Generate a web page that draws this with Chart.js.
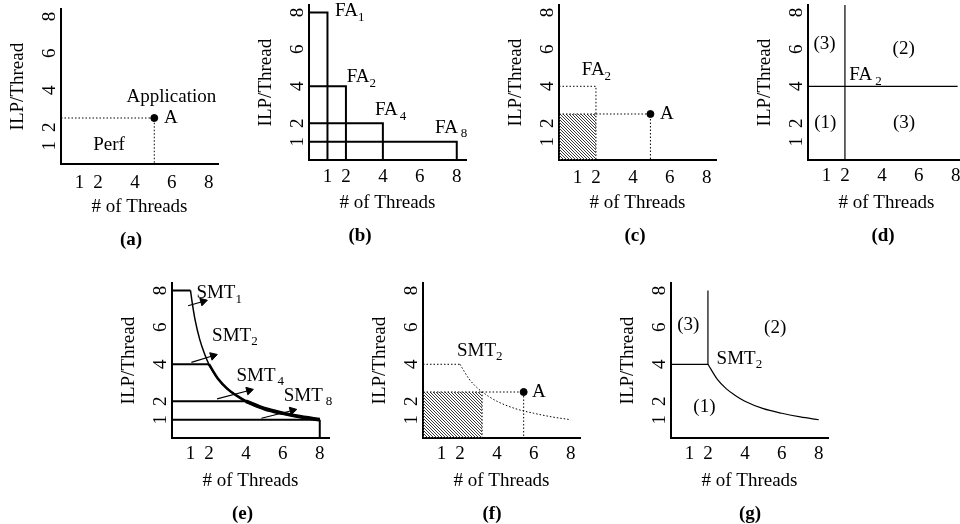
<!DOCTYPE html>
<html>
<head>
<meta charset="utf-8">
<title>ILP / Thread vs # of Threads</title>
<script src="https://cdn.jsdelivr.net/npm/chart.js@4.4.1/dist/chart.umd.min.js"></script>
<style>
  html, body { margin: 0; padding: 0; background: #fff; }
  body { width: 960px; height: 524px; overflow: hidden; position: relative; }
  canvas { position: absolute; }
</style>
</head>
<body>
<canvas id="pa"></canvas>
<canvas id="pb"></canvas>
<canvas id="pc"></canvas>
<canvas id="pd"></canvas>
<canvas id="pe"></canvas>
<canvas id="pf"></canvas>
<canvas id="pg"></canvas>
<script>
const threadTicks = [1, 2, 4, 6, 8];
const ilpTicks = [1, 2, 4, 6, 8];

// application point A as placed in (a), (c), (f)
const appThreads = [5.05, 4.95, 5.45];
const appIlp = [2.5, 2.5, 2.5];

// FA_n / SMT_n: n threads, each with this much ILP
const faThreads = [1, 2, 4, 8];
const faIlp = [8, 4, 2, 1];

const curveThreads = [1, 1.1, 1.25, 1.5, 1.75, 2, 2.5, 3, 3.5, 4, 5, 6, 7, 8];
const curveIlp = [8, 7.3, 6.4, 5.35, 4.6, 4, 3.2, 2.67, 2.3, 2, 1.6, 1.35, 1.15, 1];

// shaded box (what A actually gets) in (c) and (f)
const perfThreads = [2, 3.2];
const perfIlp = [2.5, 2.5];

// little pointers in (e)
const arrowFrom = [[0.87, 7.17], [1.05, 4.1], [2.44, 2.13], [4.84, 1.08]];
const arrowTo = [[1.68, 7.4], [2.22, 4.46], [4.17, 2.58], [6.52, 1.5]];

const captions = ['(a)', '(b)', '(c)', '(d)', '(e)', '(f)', '(g)'];

const SERIF = '"Liberation Serif", "Times New Roman", Times, serif';
Chart.defaults.font.family = SERIF;
Chart.defaults.font.size = 19;
Chart.defaults.color = '#000';

// text labels placed in data coordinates
const notesPlugin = {
    id: 'notes',
    afterDatasetsDraw(chart, args, opts) {
        const { ctx, scales: { x, y } } = chart;
        ctx.save();
        ctx.fillStyle = '#000';
        ctx.textBaseline = 'middle';
        ctx.textAlign = 'left';
        (opts.items || []).forEach(n => {
            const px = x.getPixelForValue(n.x);
            const py = y.getPixelForValue(n.y);
            ctx.font = '19px ' + SERIF;
            ctx.fillText(n.text, px, py);
            if (n.sub) {
                const w = ctx.measureText(n.text).width;
                ctx.font = '13px ' + SERIF;
                ctx.fillText(n.sub, px + w + (n.gap || 0), py + 6);
            }
        });
        ctx.restore();
    }
};

const pts = list => list.map(([x, y]) => ({ x, y }));

function line(points, width, extra) {
    return Object.assign({
        data: pts(points),
        showLine: true,
        borderColor: '#000',
        borderWidth: width,
        pointRadius: 0,
        fill: false,
        tension: 0
    }, extra || {});
}

const dotted = (points, extra) => line(points, 1, Object.assign({ borderDash: [1.5, 2] }, extra || {}));

function curve(from, width, extra) {
    const i0 = curveThreads.indexOf(from);
    const p = curveThreads.slice(i0).map((x, i) => [x, curveIlp[i0 + i]]);
    return line(p, width, Object.assign({ cubicInterpolationMode: 'monotone' }, extra || {}));
}

function dot(x, y) {
    return {
        data: [{ x, y }],
        showLine: false,
        pointRadius: 3.5,
        pointBackgroundColor: '#000',
        pointBorderColor: '#000'
    };
}

function arrow(from, to) {
    const rot = Math.atan2(to[0] - from[0], to[1] - from[1]) * 180 / Math.PI;
    return line([from, to], 1.2, {
        pointRadius: [0, 4.5],
        pointStyle: 'triangle',
        pointRotation: [0, rot],
        pointBackgroundColor: '#000',
        pointBorderColor: '#000',
        pointBorderWidth: 1
    });
}

function hatch(cv) {
    const tile = document.createElement('canvas');
    tile.width = 3;
    tile.height = 3;
    const g = tile.getContext('2d');
    g.fillStyle = '#3a3a3a';
    for (let i = 0; i < 3; i++) g.fillRect(i, i, 1, 1);
    return cv.getContext('2d').createPattern(tile, 'repeat');
}

function shaded(cv, threads, ilp) {
    return line([[0, ilp], [threads, ilp]], 1, {
        borderDash: [1.5, 2],
        fill: 'origin',
        backgroundColor: hatch(cv)
    });
}

function noPad(s) {
    s.paddingTop = 0;
    s.paddingBottom = 0;
    s.paddingLeft = 0;
    s.paddingRight = 0;
}

function panel(id, left, top, padR, caption, makeSets, notes, tickPad) {
    const cv = document.getElementById(id);
    cv.width = 60 + 157 + padR;
    cv.height = 252;
    cv.style.left = (left - 60) + 'px';
    cv.style.top = (top - 6) + 'px';

    new Chart(cv, {
        type: 'scatter',
        data: { datasets: makeSets(cv) },
        options: {
            responsive: false,
            animation: false,
            events: [],
            layout: { padding: { top: 6, left: 0, right: 0, bottom: 0 } },
            plugins: {
                legend: { display: false },
                tooltip: { enabled: false },
                title: {
                    display: true,
                    text: caption,
                    position: 'bottom',
                    font: { size: 19, weight: 'bold' },
                    padding: { top: 8, bottom: 4 }
                },
                notes: { items: notes }
            },
            scales: {
                x: {
                    type: 'linear',
                    min: 0,
                    max: 8.5,
                    afterBuildTicks: s => { s.ticks = threadTicks.map(v => ({ value: v })); },
                    afterFit: s => { s.height = 56; noPad(s); },
                    ticks: { autoSkip: false, maxRotation: 0, padding: tickPad },
                    grid: { display: false, drawTicks: false },
                    border: { display: true, color: '#000', width: 2 },
                    title: { display: true, text: '# of Threads', padding: { top: 0, bottom: 2 } }
                },
                y: {
                    type: 'linear',
                    min: 0,
                    max: 8.4,
                    afterBuildTicks: s => { s.ticks = ilpTicks.map(v => ({ value: v })); },
                    afterFit: s => { s.width = 60; noPad(s); },
                    ticks: { autoSkip: false, minRotation: 90, maxRotation: 90, crossAlign: 'center', padding: 6 },
                    grid: { display: false, drawTicks: false },
                    border: { display: true, color: '#000', width: 2 },
                    title: { display: true, text: 'ILP/Thread', padding: { top: 6, bottom: 0 } }
                },
                yr: {
                    position: 'right',
                    min: 0,
                    max: 8.4,
                    display: true,
                    ticks: { display: false },
                    grid: { display: false, drawTicks: false },
                    border: { display: false },
                    afterFit: s => { s.width = padR; noPad(s); }
                }
            }
        },
        plugins: [notesPlugin]
    });
}

// (a) the application
panel('pa', 61, 9, 43, captions[0], () => [
    dotted([[0, appIlp[0]], [appThreads[0], appIlp[0]], [appThreads[0], 0]]),
    dot(appThreads[0], appIlp[0])
], [
    { text: 'Application', x: 3.55, y: 3.66 },
    { text: 'A', x: 5.57, y: 2.49 },
    { text: 'Perf', x: 1.74, y: 1.04 }
], 7);

// (b) FA_n boxes
panel('pb', 309, 5, 5, captions[1], () => faThreads.map((t, i) =>
    line([[0, faIlp[i]], [t, faIlp[i]], [t, 0]], 2)
), [
    { text: 'FA', sub: '1', x: 1.41, y: 8.05 },
    { text: 'FA', sub: '2', x: 2.04, y: 4.49 },
    { text: 'FA', sub: '4', gap: 2, x: 3.57, y: 2.7 },
    { text: 'FA', sub: '8', gap: 3, x: 6.82, y: 1.75 }
], 5);

// (c) A on FA_2
panel('pc', 559, 5, 55, captions[2], cv => [
    shaded(cv, perfThreads[0], perfIlp[0]),
    dotted([[0, faIlp[1]], [faThreads[1], faIlp[1]], [faThreads[1], 0]]),
    dotted([[perfThreads[0], appIlp[1]], [appThreads[1], appIlp[1]], [appThreads[1], 0]]),
    dot(appThreads[1], appIlp[1])
], [
    { text: 'FA', sub: '2', x: 1.23, y: 4.87 },
    { text: 'A', x: 5.47, y: 2.5 }
], 6);

// (d) regions around FA_2
panel('pd', 808, 5, 53, captions[3], () => [
    line([[faThreads[1], 0], [faThreads[1], 8.4]], 1.2),
    line([[0, faIlp[1]], [8.1, faIlp[1]]], 1.2)
], [
    { text: '(3)', x: 0.3, y: 6.28 },
    { text: '(2)', x: 4.58, y: 6.0 },
    { text: 'FA', sub: '2', gap: 3, x: 2.24, y: 4.6 },
    { text: '(1)', x: 0.34, y: 2.0 },
    { text: '(3)', x: 4.6, y: 2.0 }
], 4);

// (e) SMT_n envelopes
panel('pe', 172, 283, 44, captions[4], () => [
    ...faThreads.map((t, i) => line([[0, faIlp[i]], [t, faIlp[i]]], 2)),
    line([[8, 1], [8, 0]], 2),
    curve(1, 1.5),
    curve(2, 2.6),
    curve(4, 3.8),
    ...arrowFrom.map((f, i) => arrow(f, arrowTo[i]))
], [
    { text: 'SMT', sub: '1', x: 1.32, y: 7.85 },
    { text: 'SMT', sub: '2', x: 2.17, y: 5.55 },
    { text: 'SMT', sub: '4', gap: 2, x: 3.49, y: 3.39 },
    { text: 'SMT', sub: '8', gap: 3, x: 6.05, y: 2.31 }
], 4);

// (f) A on SMT_2
panel('pf', 423, 283, 41, captions[5], cv => [
    shaded(cv, perfThreads[1], perfIlp[1]),
    dotted([[perfThreads[1], 0], [perfThreads[1], perfIlp[1]]]),
    dotted([[0, faIlp[1]], [faThreads[1], faIlp[1]]]),
    curve(2, 1, { borderDash: [1.5, 2] }),
    dotted([[perfThreads[1], appIlp[2]], [appThreads[2], appIlp[2]], [appThreads[2], 0]]),
    dot(appThreads[2], appIlp[2])
], [
    { text: 'SMT', sub: '2', x: 1.84, y: 4.74 },
    { text: 'A', x: 5.9, y: 2.52 }
], 4);

// (g) regions around SMT_2
panel('pg', 671, 283, 61, captions[6], () => [
    line([[0, faIlp[1]], [faThreads[1], faIlp[1]], [faThreads[1], 8]], 1.2),
    curve(2, 1.2)
], [
    { text: '(3)', x: 0.34, y: 6.1 },
    { text: '(2)', x: 5.04, y: 5.95 },
    { text: 'SMT', sub: '2', x: 2.47, y: 4.3 },
    { text: '(1)', x: 1.21, y: 1.68 }
], 4);
</script>
</body>
</html>
